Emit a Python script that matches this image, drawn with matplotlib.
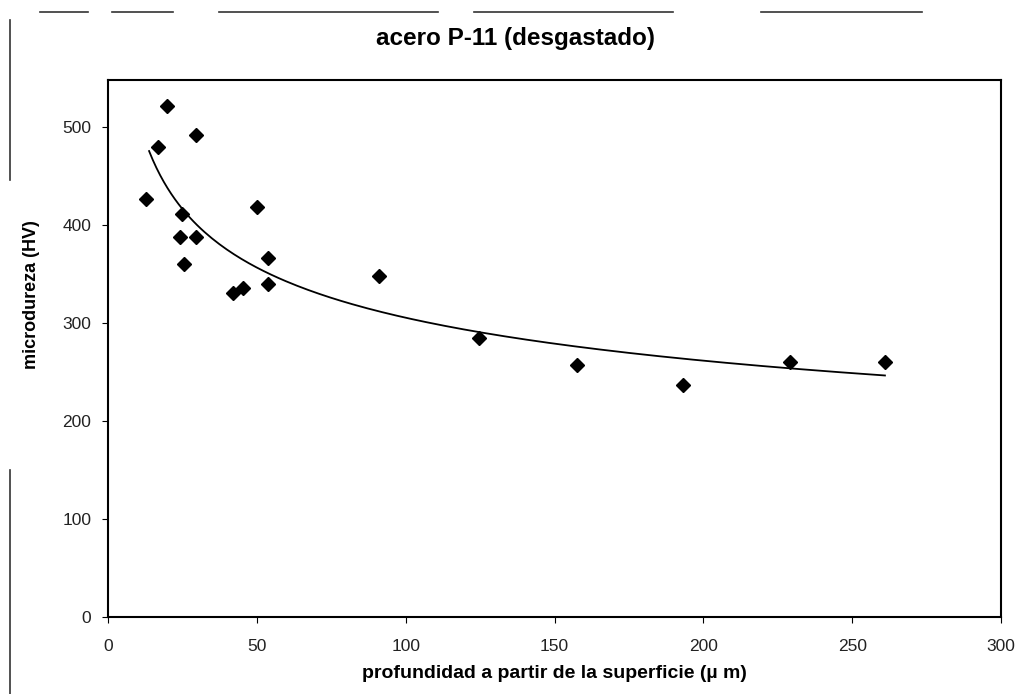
import numpy as np
import matplotlib
matplotlib.use('Agg')
import matplotlib.pyplot as plt
from matplotlib.lines import Line2D

plt.rcParams['font.family'] = ['Liberation Sans', 'DejaVu Sans']

# profundidad (um) y microdureza (HV)
depth = [12.8, 16.9, 19.9, 29.4, 24.7, 24.2, 29.4, 25.5, 49.9, 53.6, 53.6,
         41.9, 45.2, 91.1, 124.7, 157.4, 193.2, 229.1, 261.0]
hardness = [427, 480, 521, 492, 411, 388, 388, 360, 418, 366, 340,
            331, 336, 348, 285, 257, 237, 260, 260]

x_ticks = [0, 50, 100, 150, 200, 250, 300]
y_ticks = [0, 100, 200, 300, 400, 500]

fig = plt.figure(figsize=(10.2, 6.94), dpi=100)
ax = fig.add_axes([0.1059, 0.111, 0.8755, 0.7737])

ax.plot(depth, hardness, linestyle='none', marker='D', markersize=6.8,
        color='black')

# linea de tendencia potencial (como en Excel): y = c * x^k
k, lnc = np.polyfit(np.log(depth), np.log(hardness), 1)
xs = np.linspace(min(depth) + 1, max(depth), 200)
ax.plot(xs, np.exp(lnc) * xs ** k, color='black', linewidth=1.3)

ax.set_xlim(0, 300)
ax.set_ylim(0, 548)
ax.set_xticks(x_ticks)
ax.set_yticks(y_ticks)
ax.tick_params(axis='both', labelsize=12.5, length=4, direction='out',
               colors='black', labelcolor='#222222')
ax.tick_params(axis='x', pad=12)
ax.tick_params(axis='y', pad=8)
for s in ax.spines.values():
    s.set_linewidth(1.5)

fig.text(0.505, 0.945, 'acero P-11 (desgastado)', fontsize=17.5,
         fontweight='bold', ha='center', va='center')
ax.set_xlabel('profundidad a partir de la superficie (\u00b5 m)', fontsize=14,
              fontweight='bold', labelpad=8)
ax.set_ylabel('microdureza (HV)', fontsize=13, fontweight='bold')
ax.yaxis.set_label_coords(-0.076, 0.6)

# restos del escaneo
for x0, x1 in [(40, 88), (112, 173), (219, 438), (474, 673), (761, 922)]:
    fig.add_artist(Line2D([x0 / 1020, x1 / 1020], [0.983, 0.983],
                          color='#333333', linewidth=1.2))
for y0, y1 in [(20, 180), (470, 694)]:
    fig.add_artist(Line2D([0.01, 0.01], [1 - y0 / 694, 1 - y1 / 694],
                          color='#333333', linewidth=1.2))

fig.savefig('out.png', dpi=100, facecolor='white')
